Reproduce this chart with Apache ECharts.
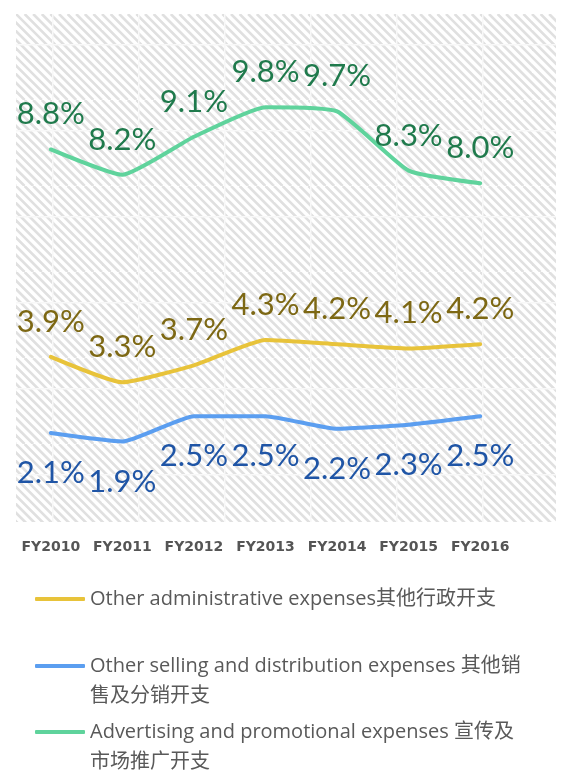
<!DOCTYPE html>
<html>
<head>
<meta charset="utf-8">
<script src="https://cdn.jsdelivr.net/npm/echarts@6/dist/echarts.min.js"></script>
<style>
    html, body { margin: 0; padding: 0; background: #fff; }
    #chart { width: 564px; height: 772px; }
</style>
</head>
<body>
<div id="chart"></div>
<script>
const years = ['FY2010', 'FY2011', 'FY2012', 'FY2013', 'FY2014', 'FY2015', 'FY2016'];
const adminValues = [3.9, 3.3, 3.7, 4.3, 4.2, 4.1, 4.2];
const sellingValues = [2.1, 1.9, 2.5, 2.5, 2.2, 2.3, 2.5];
const advertisingValues = [8.8, 8.2, 9.1, 9.8, 9.7, 8.3, 8.0];
const seriesNames = [
    'Other administrative expenses其他行政开支',
    'Other selling and distribution expenses 其他销售及分销开支',
    'Advertising and promotional expenses 宣传及市场推广开支'
];
// leading blank line keeps the icon level with the first text line
const legendTexts = [
    'Other administrative expenses其他行政开支',
    '\nOther selling and distribution expenses 其他销\n售及分销开支',
    '\nAdvertising and promotional expenses 宣传及\n市场推广开支'
];

// hatched background tile with the faint white grid
function makeHatch() {
    const size = 86;
    const c = document.createElement('canvas');
    c.width = size;
    c.height = size;
    const ctx = c.getContext('2d');
    ctx.fillStyle = '#ffffff';
    ctx.fillRect(0, 0, size, size);
    ctx.strokeStyle = '#e0e0e0';
    ctx.lineWidth = 2.6;
    for (let k = -12; k <= 22; k++) {
        const x0 = k * 8.6;
        ctx.beginPath();
        ctx.moveTo(x0, 0);
        ctx.lineTo(x0 + size, size);
        ctx.stroke();
    }
    ctx.fillStyle = '#f8f8f8';
    ctx.fillRect(36, 0, 1.5, size);
    ctx.fillRect(0, 30, size, 1.5);
    return c;
}

const labelFont = 'Lato, "Noto Sans CJK SC", sans-serif';
const legendFont = '"Open Sans", "Noto Sans CJK SC", sans-serif';

function lineSeries(name, data, lineColor, labelColor, pos, dist) {
    return {
        name: name,
        type: 'line',
        data: data,
        smooth: 0.15,
        symbol: 'circle',
        symbolSize: 0,
        showSymbol: true,
        lineStyle: { width: 4, color: lineColor, cap: 'round', join: 'round' },
        itemStyle: { color: lineColor },
        label: {
            show: true,
            position: pos,
            distance: dist,
            color: labelColor,
            fontFamily: labelFont,
            fontSize: 31,
            lineHeight: 30,
            formatter: p => p.value.toFixed(1) + '%'
        }
    };
}

const chart = echarts.init(document.getElementById('chart'));

const legendBase = {
    orient: 'vertical',
    left: 35,
    padding: 0,
    icon: 'roundRect',
    itemWidth: 50,
    itemHeight: 4,
    selectedMode: false,
    formatter: name => legendTexts[seriesNames.indexOf(name)],
    textStyle: {
        color: '#595959',
        fontSize: 20,
        lineHeight: 30,
        fontFamily: legendFont
    }
};

chart.setOption({
    animation: false,
    backgroundColor: '#ffffff',
    graphic: [
        {
            type: 'rect',
            left: 16,
            top: 14,
            z: -10,
            shape: { width: 540, height: 508 },
            style: { fill: { image: makeHatch(), repeat: 'repeat' } },
            silent: true
        }
    ],
    grid: {
        left: 15,
        width: 501,
        top: 14,
        height: 508
    },
    xAxis: {
        type: 'category',
        data: years,
        boundaryGap: true,
        axisLine: { show: false },
        axisTick: { show: false },
        splitLine: { show: false },
        axisLabel: {
            interval: 0,
            margin: 18,
            color: '#555555',
            fontWeight: 'bold',
            fontSize: 14,
            fontFamily: '"DejaVu Sans", sans-serif'
        }
    },
    yAxis: {
        type: 'value',
        min: 0,
        max: 12,
        show: false
    },
    legend: [
        Object.assign({}, legendBase, { top: 584, data: [seriesNames[0]] }),
        Object.assign({}, legendBase, { top: 621, data: [seriesNames[1]] }),
        Object.assign({}, legendBase, { top: 687, data: [seriesNames[2]] })
    ],
    series: [
        lineSeries(seriesNames[0], adminValues, '#e8c33a', '#7d6814', 'top', 20),
        lineSeries(seriesNames[1], sellingValues, '#5b9ef0', '#1f55a6', 'bottom', 25),
        lineSeries(seriesNames[2], advertisingValues, '#5fd39c', '#1f7a4c', 'top', 20)
    ]
});
</script>
</body>
</html>
